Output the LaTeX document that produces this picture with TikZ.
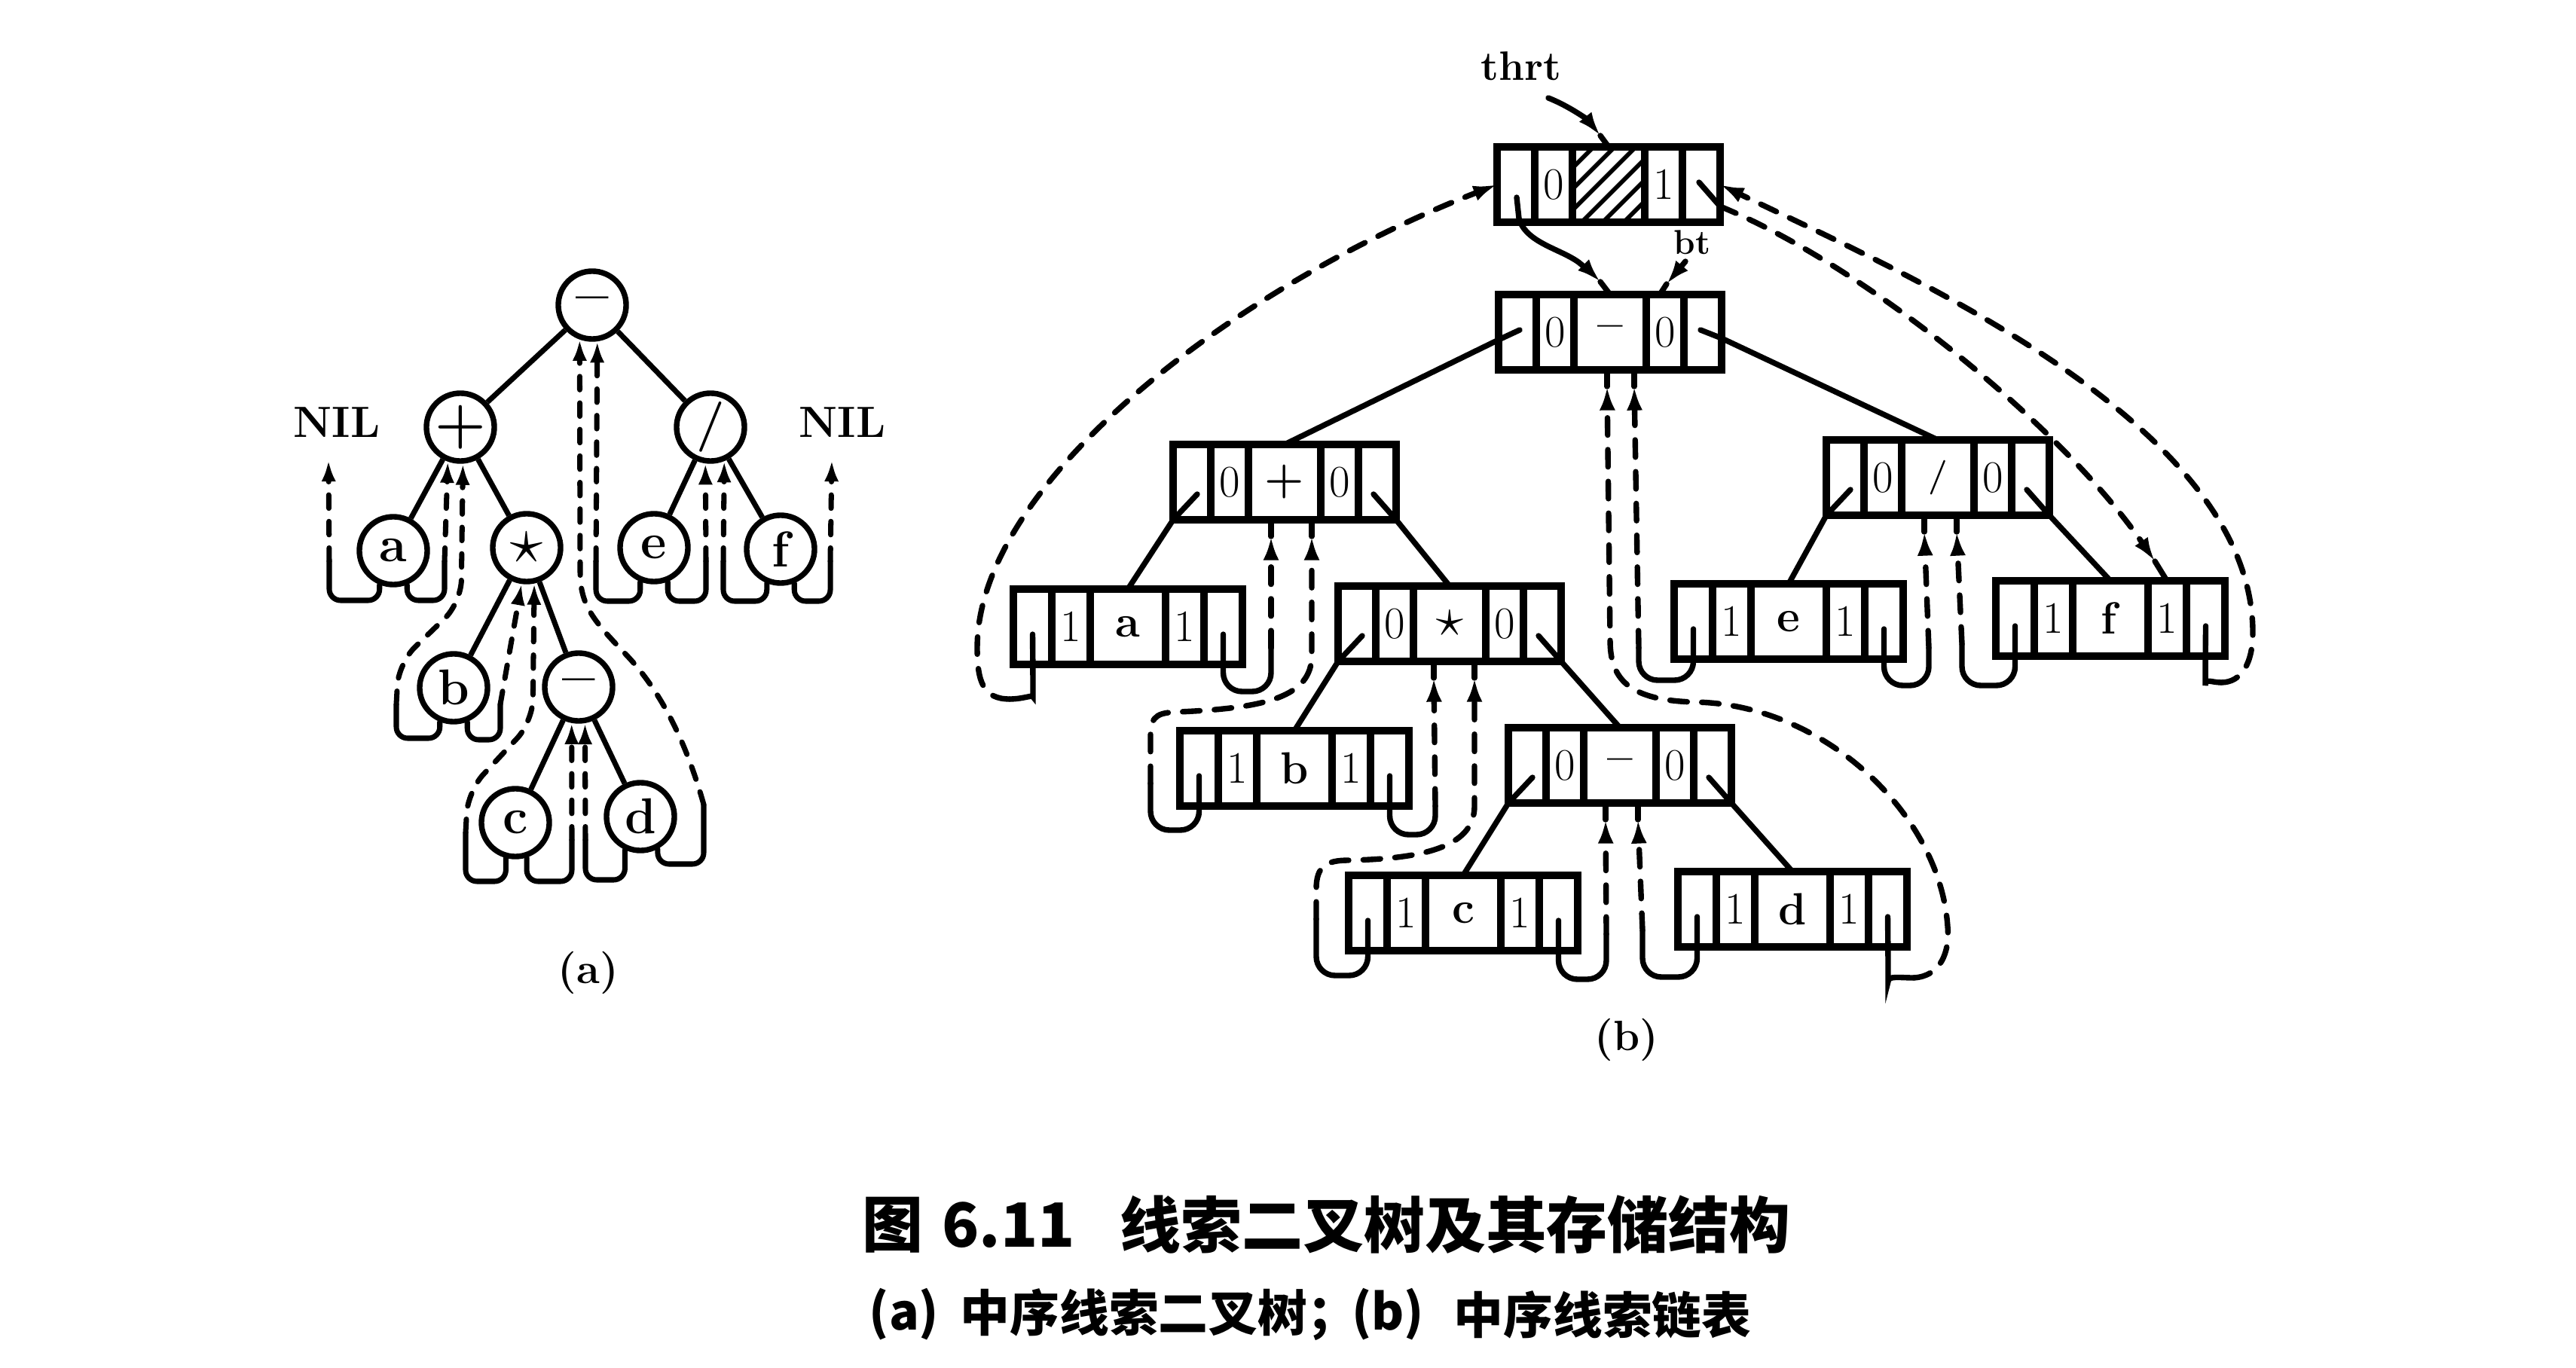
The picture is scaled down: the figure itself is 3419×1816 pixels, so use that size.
\documentclass[tikz,border=0pt]{standalone}
\usepackage{fontspec}
\newfontfamily\cjk{Noto Sans CJK SC}
\usetikzlibrary{arrows.meta,calc}
\tikzset{
  tb/.style={draw, rectangle, line width=2.6pt, minimum height=1cm, inner sep=0pt, outer sep=0pt},
  tbl/.style={line width=2.6pt},
  tt/.style={inner sep=0pt, font=\fontsize{17}{19}\selectfont},
  ln/.style={line width=2.1pt, line cap=round},
  tsb/.style={line width=2.1pt, rounded corners=0.25cm, line cap=round},
  tdb/.style={line width=2.1pt, dash pattern=on 6.5pt off 5.5pt, line cap=round},
  arr/.style={-{Latex[length=9pt,width=6pt]}},
  cir/.style={draw, circle, line width=2.1pt, minimum size=0.9cm, inner sep=0pt, font=\fontsize{19}{21}\selectfont\bfseries},
  ea/.style={line width=2pt},
  tsa/.style={line width=2pt, rounded corners=0.15cm, line cap=round},
  tda/.style={line width=2pt, dash pattern=on 5pt off 5pt, line cap=round, -{Latex[length=8pt,width=5.5pt]}},
  lbl/.style={inner sep=0pt, font=\bfseries},
  cap1/.style={inner sep=0pt, font=\cjk\bfseries\fontsize{23}{26}\selectfont},
  cap2/.style={inner sep=0pt, font=\cjk\bfseries\fontsize{18.7}{22}\selectfont},
}
% name, x, y, small cell width, data cell width, left tag, data, right tag
\newcommand{\mkbox}[8]{%
  \node[tb, minimum width={(4*#4+#5)*0.01cm}, anchor=north west] (#1) at (#2,#3) {};
  \draw[tbl] ({#2+#4},#3) -- ++(0,100);
  \draw[tbl] ({#2+2*#4},#3) -- ++(0,100);
  \draw[tbl] ({#2+2*#4+#5},#3) -- ++(0,100);
  \draw[tbl] ({#2+3*#4+#5},#3) -- ++(0,100);
  \node[tt] (#1-t1) at ({#2+1.5*#4},{#3+50}) {#6};
  \node[tt] (#1-d) at ({#2+2*#4+#5/2},{#3+50}) {#7};
  \node[tt] (#1-t2) at ({#2+2.5*#4+#5},{#3+50}) {#8};
  \coordinate (#1-L) at ({#2+#4/2},{#3+60});
  \coordinate (#1-R) at ({#2+3.5*#4+#5},{#3+60});
  \coordinate (#1-ls) at ({#2+32},{#3+66});
  \coordinate (#1-rs) at ({#2+4*#4+#5-30},{#3+66});
  \coordinate (#1-lm) at ({#2+28},{#3+47});
  \coordinate (#1-rm) at ({#2+4*#4+#5-28},{#3+47});
}
\begin{document}
\begin{tikzpicture}[x=0.01cm, y=-0.01cm]
\fill[white] (0,0) rectangle (3419,1816);
\useasboundingbox (0,0) rectangle (3419,1816);

% ================= (a) =================
\node[cir] (rootA) at (786,405) {\fontsize{22}{22}\selectfont\bfseries --};
\node[cir] (plusA) at (611,567) {\fontsize{22}{22}\selectfont\bfseries +};
\node[cir] (slashA) at (943,567) {/};
\node[cir] (aA) at (522,731) {a};
\node[cir] (starA) at (699,727) {\fontsize{26}{26}\selectfont$\star$};
\node[cir] (eA) at (868,727) {e};
\node[cir] (fA) at (1036,729) {f};
\node[cir] (bA) at (602,913) {b};
\node[cir] (mA) at (768,912) {\fontsize{22}{22}\selectfont\bfseries --};
\node[cir] (cA) at (684,1092) {c};
\node[cir] (dA) at (850,1084) {d};
\node[lbl, font=\fontsize{16.5}{18}\selectfont\bfseries] (nilL) at (447,561) {NIL};
\node[lbl, font=\fontsize{16.5}{18}\selectfont\bfseries] (nilR) at (1118,561) {NIL};
\coordinate (nilLa) at (436,611);
\coordinate (nilRa) at (1104,611);

\draw[ea] (rootA) -- (plusA);
\draw[ea] (rootA) -- (slashA);
\draw[ea] (plusA) -- (aA);
\draw[ea] (plusA) -- (starA);
\draw[ea] (slashA) -- (eA);
\draw[ea] (slashA) -- (fA);
\draw[ea] (starA) -- (bA);
\draw[ea] (starA) -- (mA);
\draw[ea] (mA) -- (cA);
\draw[ea] (mA) -- (dA);

% threads (a)
\draw[tsa] (aA.-112) -- (aA.-112 |- 0,797) -- (437,797) -- (437,745);
\draw[tda] (437,745) -- (nilLa);
\draw[tsa] (aA.-68) -- (aA.-68 |- 0,797) -- (590,797) -- (590,745);
\draw[tda] (590,745) -- (plusA.-110);
\draw[tsa] (bA.-112) -- (bA.-112 |- 0,980) -- (526,980) -- (526,935);
\draw[tda, rounded corners=0.3cm] (526,935) -- (529,880) -- (612,800) -- (plusA.-86);
\draw[tsa] (bA.-68) -- (bA.-68 |- 0,982) -- (664,982) -- (664,935);
\draw[tda] (664,935) -- (starA.-98);
\draw[tsa] (cA.-105) -- (cA.-105 |- 0,1170) -- (618,1170) -- (618,1105);
\draw[tda, rounded corners=0.3cm] (618,1105) -- (621,1050) -- (707,958) -- (starA.-78);
\draw[tsa] (cA.-72) -- (cA.-72 |- 0,1170) -- (759,1170) -- (759,1115);
\draw[tda] (759,1115) -- (mA.-101);
\draw[tsa] (dA.-115) -- (dA.-115 |- 0,1168) -- (777,1168) -- (777,1115);
\draw[tda] (777,1115) -- (mA.-80);
\draw[tsa] (dA.-62) -- (dA.-62 |- 0,1147) -- (934,1147) -- (934,1068);
\draw[tda] (934,1068) .. controls (912,990) and (880,920) .. (830,868) .. controls (790,826) and (770,805) .. (770,760) -- (rootA.-110);
\draw[tsa] (eA.-112) -- (eA.-112 |- 0,798) -- (791,798) -- (791,745);
\draw[tda] (791,745) -- (rootA.-82);
\draw[tsa] (eA.-68) -- (eA.-68 |- 0,798) -- (937,798) -- (937,745);
\draw[tda] (937,745) -- (slashA.-98);
\draw[tsa] (fA.-112) -- (fA.-112 |- 0,798) -- (960,798) -- (960,745);
\draw[tda] (960,745) -- (slashA.-68);
\draw[tsa] (fA.-68) -- (fA.-68 |- 0,798) -- (1102,798) -- (1102,745);
\draw[tda] (1102,745) -- (nilRa);

\node[lbl, font=\fontsize{16}{18}\selectfont\bfseries] (labA) at (781,1291) {(a)};

% ================= (b) =================
\begin{scope}
  \clip (2087,195) rectangle (2183,295);
  \foreach \k in {0,...,7} \draw[line width=1.6pt] ({1987+\k*28},295) -- ++(100,-100);
\end{scope}
\mkbox{H}{1987}{195}{50}{96}{0}{}{1}
\mkbox{R}{1989}{391}{50}{96}{0}{\bfseries --}{0}
\mkbox{P}{1557}{590}{50}{96}{0}{\bfseries +}{0}
\mkbox{S}{2424}{584}{50}{96}{0}{\fontsize{13}{13}\selectfont\bfseries /}{0}
\mkbox{T}{1776}{778}{50}{96}{0}{\fontsize{22}{22}\selectfont$\star$}{0}
\mkbox{M}{2002}{966}{50}{96}{0}{\bfseries --}{0}
\mkbox{a}{1345}{782}{51}{100}{1}{\textbf{a}}{1}
\mkbox{b}{1566}{970}{51}{100}{1}{\textbf{b}}{1}
\mkbox{c}{1790}{1162}{51}{100}{1}{\textbf{c}}{1}
\mkbox{d}{2227}{1157}{51}{100}{1}{\textbf{d}}{1}
\mkbox{e}{2222}{775}{51}{100}{1}{\textbf{e}}{1}
\mkbox{f}{2649}{771}{51}{100}{1}{\textbf{f}}{1}

\node[lbl, font=\fontsize{15.5}{17}\selectfont\bfseries] (thrt) at (2019,88) {thrt};
\node[lbl, font=\fontsize{13}{14}\selectfont\bfseries] (bt) at (2246,322) {bt};
\node[lbl, font=\fontsize{16}{18}\selectfont\bfseries] (labB) at (2159,1380) {(b)};

% thrt, bt pointers
\draw[ln, arr] (2055,130) .. controls (2085,142) and (2108,160) .. (2124,180);
\draw[ln] (2124,180) -- (H.north);
\draw[ln, arr] (2237,347) -- (2212,377);
\draw[ln] (2212,377) -- (R.north -| 2203,0);
% head left pointer -> root
\draw[ln, arr] (2013,262) -- (2016,290) .. controls (2025,322) and (2070,330) .. (2095,348) .. controls (2105,356) and (2115,365) .. (2124,374);
\draw[ln] (2124,374) -- (R.north);

% child edges
\draw[ln] (R-lm) -- ($(R.south west)+(0,-40)$) -- (P.north);
\draw[ln] (R-rm) -- ($(R.south east)+(0,-42)$) -- (S.north);
\draw[ln] (P-ls) -- (P.south west) -- (a.north);
\draw[ln] (P-rs) -- (P.south east) -- (T.north);
\draw[ln] (T-ls) -- (T.south west) -- (b.north);
\draw[ln] (T-rs) -- (T.south east) -- (M.north);
\draw[ln] (M-ls) -- (M.south west) -- (c.north);
\draw[ln] (M-rs) -- (M.south east) -- (d.north);
\draw[ln] (S-ls) -- (S.south west) -- (e.north);
\draw[ln] (S-rs) -- (S.south east) -- (f.north);

% threads (b)
\draw[tsb] (a-L) -- (1371,900) .. controls (1371,922) and (1358,928) .. (1340,928);
\draw[tdb, arr] (1340,928) .. controls (1305,928) and (1297,905) .. (1297,860) .. controls (1297,640) and (1640,380) .. (H.west);
\draw[tsb] (a-R) -- (a-R |- 0,918) -- (1687,918) -- (1687,860);
\draw[tdb, arr] (1687,860) -- (1687,712);
\draw[ln] (1687,712) -- (P.south -| 1687,0);
\draw[tsb] (b-L) -- (b-L |- 0,1102) -- (1527,1102) -- (1527,1040);
\draw[tdb, arr] (1527,1040) -- (1527,975) .. controls (1527,948) and (1540,946) .. (1565,945) .. controls (1680,940) and (1741,925) .. (1741,870) -- (1741,712);
\draw[ln] (1741,712) -- (P.south -| 1741,0);
\draw[tsb] (b-R) -- (b-R |- 0,1108) -- (1905,1108) -- (1905,1070);
\draw[tdb, arr] (1905,1070) -- (1903,900);
\draw[ln] (1903,900) -- (T.south -| 1903,0);
\draw[tsb] (c-L) -- (c-L |- 0,1295) -- (1747,1295) -- (1747,1220);
\draw[tdb, arr] (1747,1220) -- (1747,1180) .. controls (1747,1150) and (1760,1142) .. (1790,1142) .. controls (1900,1140) and (1957,1120) .. (1957,1070) -- (1957,900);
\draw[ln] (1957,900) -- (T.south -| 1957,0);
\draw[tsb] (c-R) -- (c-R |- 0,1300) -- (2132,1300) -- (2132,1240);
\draw[tdb, arr] (2132,1240) -- (2131,1088);
\draw[ln] (2131,1088) -- (M.south -| 2131,0);
\draw[tsb] (d-L) -- (d-L |- 0,1297) -- (2180,1297) -- (2180,1235);
\draw[tdb, arr] (2180,1235) -- (2174,1088);
\draw[ln] (2174,1088) -- (M.south -| 2174,0);
\draw[tsb] (d-R) -- (2506,1278) .. controls (2506,1295) and (2520,1298) .. (2540,1298);
\draw[tdb, arr] (2540,1298) .. controls (2575,1296) and (2588,1265) .. (2585,1230) .. controls (2575,1080) and (2420,935) .. (2250,932) .. controls (2160,930) and (2137,900) .. (2137,850) -- (2133,513);
\draw[ln] (2133,513) -- (R.south -| 2133,0);
\draw[tsb] (e-L) -- (e-L |- 0,903) -- (2175,903) -- (2175,860);
\draw[tdb, arr] (2175,860) -- (2169,513);
\draw[ln] (2169,513) -- (R.south -| 2169,0);
\draw[tsb] (e-R) -- (e-R |- 0,910) -- (2560,910) -- (2560,860);
\draw[tdb, arr] (2560,860) -- (2554,706);
\draw[ln] (2554,706) -- (S.south -| 2554,0);
\draw[tsb] (f-L) -- (f-L |- 0,910) -- (2604,910) -- (2604,855);
\draw[tdb, arr] (2604,855) -- (2597,706);
\draw[ln] (2597,706) -- (S.south -| 2597,0);
\draw[tsb] (f-R) -- (2927,885) .. controls (2927,900) and (2935,906) .. (2948,906);
\draw[tdb, arr] (2948,906) .. controls (2975,906) and (2990,880) .. (2990,840) .. controls (2990,560) and (2520,360) .. (H.east);
\draw[ln] (H-rm) -- (2283,274);
\draw[tdb, arr] (2283,274) .. controls (2480,355) and (2740,570) .. (2860,745);
\draw[ln] (2860,745) -- (f.north -| 2876,0);

% ================= caption =================
\node[cap1] (c1a) at (1185,1626) {图};
\node[cap1, anchor=west] (c1b) at (1250,1626) {6.11};
\node[cap1, anchor=west] (c1c) at (1486,1626) {线索二叉树及其存储结构};
\node[cap2] (c2a) at (1200,1745) {(a)};
\node[cap2, anchor=west] (c2b) at (1274,1745) {中序线索二叉树；};
\node[cap2] (c2d) at (1842,1745) {(b)};
\node[cap2, anchor=west] (c2e) at (1929,1745) {中序线索链表};
\end{tikzpicture}
\end{document}
